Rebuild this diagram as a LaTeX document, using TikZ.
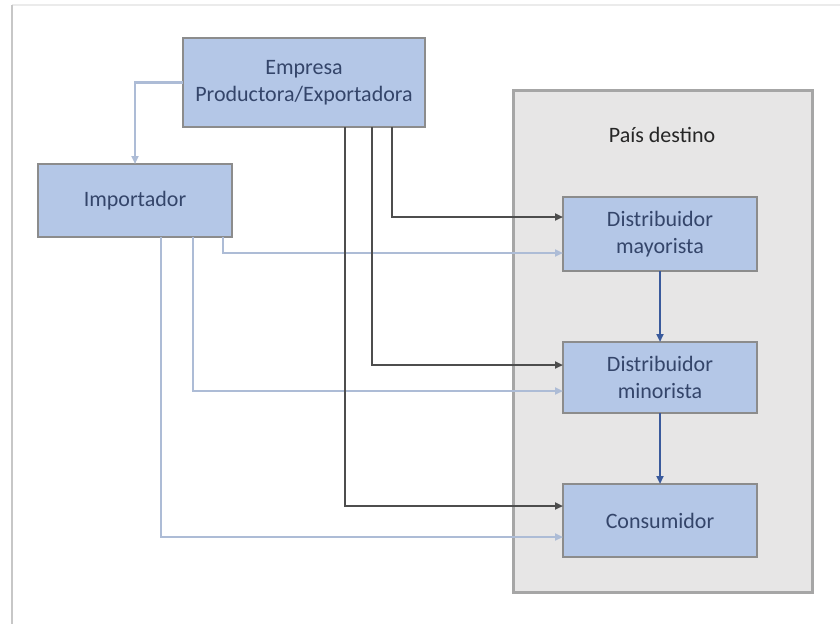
\documentclass[tikz,border=0pt]{standalone}
\usepackage{fontspec}
\setmainfont{Carlito}
\usetikzlibrary{arrows.meta,calc}

\definecolor{boxfill}{HTML}{B4C7E7}
\definecolor{boxline}{HTML}{8C8C8C}
\definecolor{boxtext}{HTML}{34456A}
\definecolor{zonefill}{HTML}{E7E6E6}
\definecolor{zoneline}{HTML}{A6A6A6}
\definecolor{darkline}{HTML}{4D4D4D}
\definecolor{lightline}{HTML}{ADBCD6}
\definecolor{flowblue}{HTML}{3A5A9C}

\tikzset{
  actor/.style={draw=boxline, line width=1.3pt, fill=boxfill, text=boxtext,
    inner sep=0pt, outer sep=0pt, align=center,
    font=\fontsize{22}{26.7}\selectfont},
  zone/.style={draw=zoneline, line width=3pt, fill=zonefill,
    inner sep=0pt, outer sep=0pt},
  tip/.style={-{Triangle[length=8pt,width=7pt]}},
  dk/.style={tip, draw=darkline, line width=2.2pt},
  lt/.style={tip, draw=lightline, line width=2.2pt},
  fb/.style={tip, draw=flowblue, line width=2.2pt},
}

\begin{document}
\begin{tikzpicture}[x=1pt,y=-1pt]
  \useasboundingbox (0,0) rectangle (840,624);

  % page frame
  \draw[draw=black!8, line width=1.5pt] (12,5) -- (840,5);
  \draw[draw=black!22, line width=2pt] (12,5) -- (12,624);

  % destination country
  \node[zone, minimum width=299pt, minimum height=502pt] (zone) at (662.5,341) {};
  \node[font=\fontsize{22}{26.7}\selectfont, text=black!85] (zonetitle) at (662,135) {País destino};

  % actors
  \node[actor, minimum width=242pt, minimum height=89pt] (emp) at (304,82.5)
    {Empresa\\Productora/Exportadora};
  \node[actor, minimum width=194pt, minimum height=73pt] (imp) at (135,200.5)
    {Importador};
  \node[actor, minimum width=194pt, minimum height=74pt] (may) at (660,234)
    {Distribuidor\\mayorista};
  \node[actor, minimum width=194pt, minimum height=71pt] (min) at (660,377.5)
    {Distribuidor\\minorista};
  \node[actor, minimum width=194pt, minimum height=73pt] (con) at (660,520.5)
    {Consumidor};

  % channels through the importer
  \draw[lt] (emp.west) -| (imp.north);
  \draw[lt] ([xshift=88pt]imp.south) |- ($(may.west)+(0,19)$);
  \draw[lt] ([xshift=58pt]imp.south) |- ($(min.west)+(0,13.5)$);
  \draw[lt] ([xshift=26pt]imp.south) |- ($(con.west)+(0,16.5)$);

  % direct channels from the exporter
  \draw[dk] ([xshift=88pt]emp.south) |- ($(may.west)+(0,-17)$);
  \draw[dk] ([xshift=68pt]emp.south) |- ($(min.west)+(0,-12.5)$);
  \draw[dk] ([xshift=41pt]emp.south) |- ($(con.west)+(0,-14.5)$);

  % distribution chain inside the country
  \draw[fb] (may.south) -- (min.north);
  \draw[fb] (min.south) -- (con.north);
\end{tikzpicture}
\end{document}
